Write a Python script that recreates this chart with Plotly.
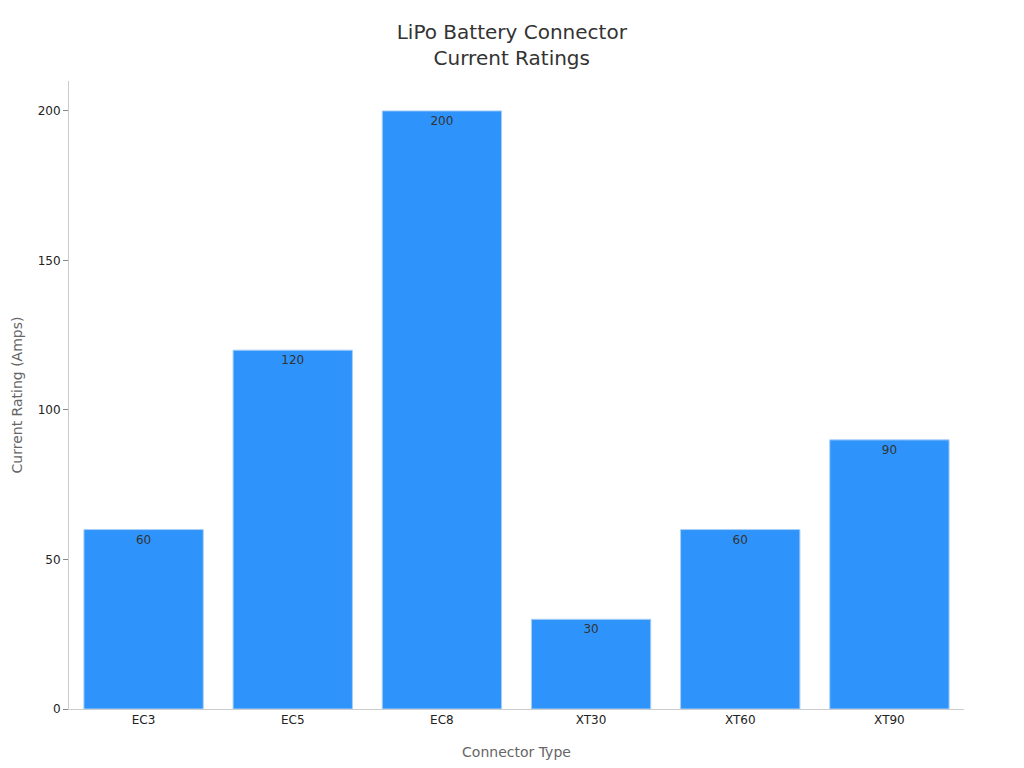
import plotly.graph_objects as go

connectors = ["EC3", "EC5", "EC8", "XT30", "XT60", "XT90"]
ratings = [60, 120, 200, 30, 60, 90]

fig = go.Figure()
fig.add_trace(go.Bar(
    x=connectors, y=ratings,
    text=ratings, textposition="inside", insidetextanchor="end",
    textfont=dict(color="#333333", size=12),
    marker=dict(color="#2E93FA", line=dict(color="#A9CFF7", width=1)),
))

fig.update_layout(
    width=1024, height=768,
    font=dict(family="DejaVu Sans", size=12, color="#222222"),
    title=dict(text="LiPo Battery Connector<br>Current Ratings", x=0.492, y=0.959,
               xanchor="center", font=dict(size=20, color="#333333")),
    plot_bgcolor="white", paper_bgcolor="white",
    margin=dict(l=61, r=68, t=73, b=67),
    bargap=0.2,
    showlegend=False,
)
fig.update_xaxes(title=dict(text="Connector Type", font=dict(size=14, color="#666666"), standoff=20),
                 showline=True, linecolor="#cccccc", ticks="", showgrid=False)
fig.update_yaxes(title=dict(text="Current Rating (Amps)", font=dict(size=14, color="#666666"), standoff=11),
                 range=[0, 210], showline=True, linecolor="#cccccc", ticks="outside",
                 tickcolor="#888888", ticklen=5, showgrid=False, zeroline=False,
                 tickvals=[0, 50, 100, 150, 200], automargin=False)

fig.write_html("out.html")
